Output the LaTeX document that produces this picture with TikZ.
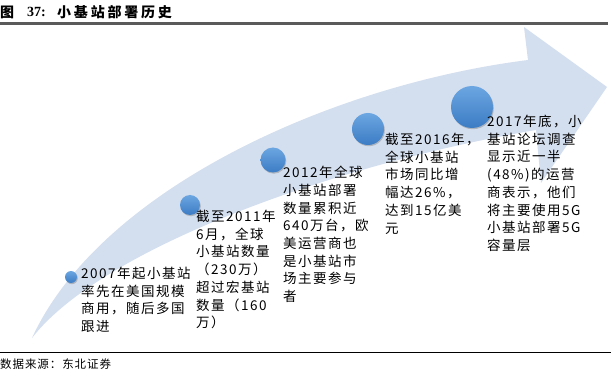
\documentclass[tikz,border=0pt]{standalone}
\usepackage{fontspec}
\setmainfont{Noto Sans CJK SC}
\newfontfamily\bodyfont[LetterSpace=11]{Noto Sans CJK SC}
\newfontfamily\titlefont[LetterSpace=20]{Noto Sans CJK SC}
\newfontfamily\numfont{Liberation Serif}
\newfontfamily\footfont[LetterSpace=8]{Noto Sans CJK SC}
\usetikzlibrary{shadows}
\definecolor{bandcol}{RGB}{211,222,238}
\definecolor{ballhi}{RGB}{108,166,226}
\definecolor{balllo}{RGB}{60,124,196}
\definecolor{rulegray}{RGB}{90,90,90}
\tikzset{
  ball/.style={circle, inner sep=0pt, top color=ballhi, bottom color=balllo,
    drop shadow={shadow xshift=0.8pt, shadow yshift=-1.2pt, opacity=0.35, fill=black!60}},
  desc/.style={anchor=north west, inner sep=0pt, align=left,
    font=\bodyfont\fontsize{13.5}{17.7}\selectfont},
}
\begin{document}
\begin{tikzpicture}[x=1pt,y=-1pt]
\useasboundingbox (0,0) rectangle (611,385);
% title
\node[anchor=west, inner sep=0pt, font=\titlefont\bfseries\fontsize{14}{16}\selectfont] (ttl1) at (0,12) {图};
\node[anchor=west, inner sep=0pt, font=\numfont\bfseries\fontsize{14}{16}\selectfont] (ttl2) at (27,12) {37:};
\node[anchor=west, inner sep=0pt, font=\titlefont\bfseries\fontsize{14}{16}\selectfont] (ttl3) at (57,12) {小基站部署历史};
\draw[rulegray, line width=2.5pt] (0,23.5) -- (608,23.5);
% band arrow
\fill[bandcol] (32,338) .. controls (100,190) and (330,85) .. (528,60)
  -- (524,27) -- (607,87) -- (541,183) -- (536,130)
  .. controls (330,165) and (100,250) .. (32,338) -- cycle;
% balls
\node[ball, minimum size=12pt] (c1) at (71,277) {};
\node[ball, minimum size=20pt] (c2) at (190,205) {};
\node[ball, minimum size=25pt] (c3) at (273,160) {};
\node[ball, minimum size=32pt] (c4) at (368,129) {};
\node[ball, minimum size=42pt] (c5) at (472,107) {};
% texts
\node[desc] (t1) at (81,267) {2007年起小基站\\率先在美国规模\\商用，随后多国\\跟进};
\node[desc] (t2) at (196,210) {截至2011年\\6月，全球\\小基站数量\\（230万）\\超过宏基站\\数量（160\\万）};
\node[desc] (t3) at (283,166) {2012年全球\\小基站部署\\数量累积近\\640万台，欧\\美运营商也\\是小基站市\\场主要参与\\者};
\node[desc] (t4) at (385,133) {截至2016年，\\全球小基站\\市场同比增\\幅达26\%，\\达到15亿美\\元};
\node[desc] (t5) at (487,115) {2017年底，小\\基站论坛调查\\显示近一半\\(48\%)的运营\\商表示，他们\\将主要使用5G\\小基站部署5G\\容量层};
% footer
\draw[black, line width=0.8pt] (0,352) -- (611,352);
\node[anchor=west, inner sep=0pt, font=\footfont\fontsize{11.5}{13}\selectfont] (src) at (0,364) {数据来源：东北证券};
\end{tikzpicture}
\end{document}
